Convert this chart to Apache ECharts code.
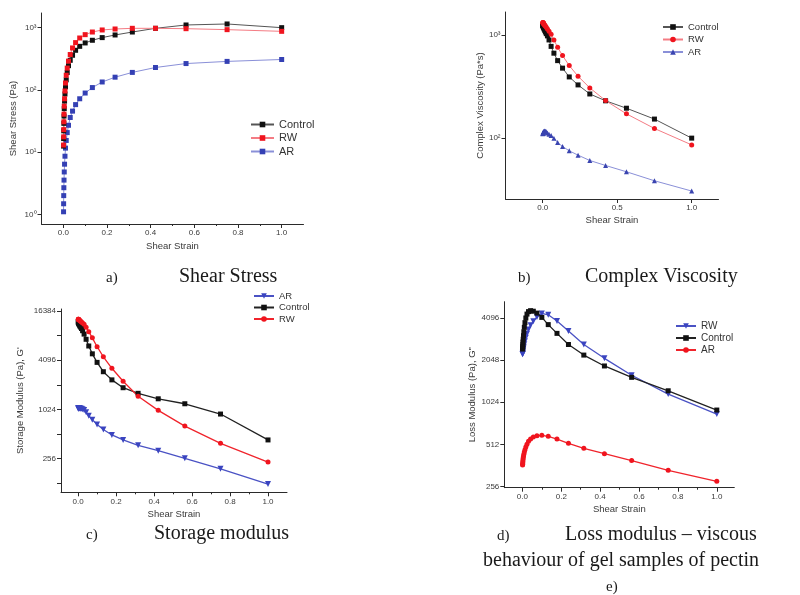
<!DOCTYPE html>
<html>
<head>
<meta charset="utf-8">
<script src="https://cdn.jsdelivr.net/npm/echarts@6/dist/echarts.min.js"></script>
<style>
  html, body { margin: 0; background: #fff; }
  #chart { width: 800px; height: 595px; }
</style>
</head>
<body>
<div id="chart"></div>
<script>
// shared strain steps (amplitude sweep)
const strain = [0.001, 0.00133, 0.00178, 0.00237, 0.00316, 0.00422, 0.00562, 0.0075, 0.01, 0.0133,
  0.0178, 0.0237, 0.0316, 0.0422, 0.0562, 0.075, 0.1, 0.133, 0.178, 0.237, 0.316, 0.422, 0.562, 0.75, 1.0]

// a) shear stress (Pa)
const stressControl = [12.5, 16.5, 22, 29, 38, 50, 66, 86, 112, 145, 190, 245, 299, 360, 433, 501, 568, 627, 692, 763, 851, 976, 1104, 1146, 1000]
const stressRW      = [13, 17.6, 23, 30.7, 40.7, 54.7, 72, 96, 129, 172, 224, 290, 370, 472, 575, 682, 772, 851, 918, 952, 976, 976, 963, 929, 873]
const stressAR      = [1.1, 1.48, 2.0, 2.68, 3.55, 4.8, 6.4, 8.6, 11.6, 15.4, 20.6, 27, 36, 45.6, 58, 72, 89, 109, 134, 160, 191, 229, 265, 287, 308]

// b) complex viscosity (Pa*s)
const viscControl = [1245, 1240, 1235, 1225, 1215, 1200, 1185, 1165, 1140, 1110, 1070, 1030, 980, 895, 775, 666, 564, 477, 392, 328, 268, 230, 195, 153, 100]
const viscRW      = [1320, 1318, 1315, 1310, 1305, 1300, 1290, 1280, 1265, 1245, 1220, 1185, 1140, 1085, 1016, 895, 760, 631, 505, 398, 307, 231, 172, 124, 86]
const viscAR      = [110, 111, 112, 113, 113.5, 114, 115, 116, 116.5, 117, 116.5, 115, 112, 109, 106, 100, 90.6, 83, 75.3, 68.4, 60.7, 54.3, 47.2, 38.6, 30.7]

// c) storage modulus G' (Pa)
const storAR      = [1050, 1050, 1050, 1055, 1055, 1055, 1055, 1055, 1050, 1045, 1040, 1030, 1010, 942, 855, 765, 671, 580, 498, 433, 372, 320, 258, 192, 125]
const storControl = [12000, 11950, 11850, 11750, 11600, 11450, 11250, 11000, 10700, 10400, 10000, 9400, 8540, 7380, 6110, 4900, 3850, 2960, 2352, 1886, 1610, 1380, 1200, 898, 433]
const storRW      = [13000, 13000, 12950, 12900, 12850, 12800, 12700, 12600, 12450, 12300, 12050, 11700, 11270, 10370, 9150, 7690, 5990, 4510, 3260, 2260, 1480, 996, 640, 393, 232]

// d) loss modulus G" (Pa)
const lossRW      = [2250, 2260, 2280, 2310, 2350, 2400, 2470, 2550, 2650, 2780, 2950, 3150, 3380, 3620, 3860, 4150, 4400, 4300, 3880, 3300, 2640, 2105, 1595, 1170, 844]
const lossControl = [2450, 2500, 2560, 2640, 2750, 2880, 3050, 3250, 3500, 3780, 4080, 4350, 4530, 4600, 4560, 4420, 4120, 3660, 3170, 2640, 2220, 1857, 1541, 1236, 901]
const lossAR      = [365, 370, 378, 388, 398, 410, 422, 436, 452, 470, 492, 515, 540, 560, 578, 590, 595, 585, 560, 522, 481, 440, 393, 335, 280]

// ticks
const xTicksFine  = [0, 0.2, 0.4, 0.6, 0.8, 1.0]
const xMinorFine  = [0.1, 0.3, 0.5, 0.7, 0.9]
const xTicksHalf  = [0, 0.5, 1.0]
const yTicksA     = [1, 10, 100, 1000]
const yTicksB     = [100, 1000]
const yTicksC     = [128, 256, 512, 1024, 2048, 4096, 8192, 16384]
const yLabelsC    = [256, 1024, 4096, 16384]
const yTicksD     = [256, 512, 1024, 2048, 4096]

const SANS = '"Liberation Sans", Arial, sans-serif'
const SERIF = '"Liberation Serif", "Times New Roman", serif'
const AX = '#2a2a2a'
const LBL = '#3a3a3a'
const SUP = ['⁰', '¹', '²', '³', '⁴']

const chart = echarts.init(document.getElementById('chart'), null, { renderer: 'canvas' })

function pts(ys) { return strain.map((x, i) => [x, ys[i]]) }

function xMain(grid, min, max, ticks, gap, fmt) {
  return {
    gridIndex: grid, type: 'value', min, max,
    axisLine: { onZero: false, lineStyle: { color: AX, width: 1 } },
    axisTick: { customValues: ticks, length: 4, lineStyle: { color: AX } },
    axisLabel: { customValues: ticks, formatter: fmt, fontSize: 8, color: LBL, fontFamily: SANS, margin: 5 },
    splitLine: { show: false },
    name: 'Shear Strain', nameLocation: 'middle', nameGap: gap,
    nameTextStyle: { fontSize: 9.5, color: LBL, fontFamily: SANS },
  }
}
function xMinor(grid, min, max, ticks) {
  return {
    gridIndex: grid, type: 'value', min, max, position: 'bottom',
    axisLine: { show: false, onZero: false },
    axisTick: { customValues: ticks, length: 2, lineStyle: { color: AX } },
    axisLabel: { show: false }, splitLine: { show: false },
  }
}
function yLog(grid, base, min, max, ticks, labels, fmt, name, gap) {
  return {
    gridIndex: grid, type: 'log', logBase: base, min, max,
    axisLine: { show: true, onZero: false, lineStyle: { color: AX, width: 1 } },
    axisTick: { show: true, customValues: ticks, length: 4, lineStyle: { color: AX } },
    axisLabel: { customValues: labels, formatter: fmt, fontSize: 8, color: LBL, fontFamily: SANS, margin: 5 },
    splitLine: { show: false }, minorTick: { show: false },
    name, nameLocation: 'middle', nameGap: gap,
    nameTextStyle: { fontSize: 9.5, color: LBL, fontFamily: SANS },
  }
}
const pow10 = v => '10' + SUP[Math.round(Math.log10(v))]

function line(name, grid, ys, color, lineColor, symbol, size, width) {
  return {
    type: 'line', name, xAxisIndex: grid, yAxisIndex: grid, data: pts(ys),
    symbol, symbolSize: size, showSymbol: true,
    lineStyle: { color: lineColor, width },
    itemStyle: { color },
    emphasis: { disabled: true },
  }
}

function legend(left, top, names, fontSize, itemWidth, gap) {
  return {
    left, top, orient: 'vertical', itemGap: gap, itemWidth, itemHeight: 7,
    selectedMode: false, data: names,
    formatter: n => n.split(':')[1],
    textStyle: { fontSize, color: '#333', fontFamily: SANS },
  }
}

function caption(x, y, text, size) {
  return { type: 'text', x, y, style: { text, font: size + 'px ' + SERIF, fill: '#1a1a1a', verticalAlign: 'middle' } }
}

const option = {
  animation: false,
  backgroundColor: '#fff',
  grid: [
    { left: 41.5, top: 13, width: 262, height: 211 },
    { left: 505.5, top: 12, width: 213, height: 187 },
    { left: 61, top: 309, width: 226, height: 183.3 },
    { left: 504.3, top: 301.7, width: 230, height: 186 },
  ],
  xAxis: [
    xMain(0, -0.1, 1.1, xTicksFine, 17, v => v.toFixed(1)),
    xMain(1, -0.25, 1.18, xTicksHalf, 16, v => v.toFixed(1)),
    xMain(2, -0.09, 1.1, xTicksFine, 17, v => v.toFixed(1)),
    xMain(3, -0.093, 1.09, xTicksFine, 17, v => v.toFixed(1)),
    xMinor(0, -0.1, 1.1, xMinorFine),
    xMinor(2, -0.09, 1.1, xMinorFine),
    xMinor(3, -0.093, 1.09, xMinorFine),
  ],
  yAxis: [
    yLog(0, 10, 0.7, 1720, yTicksA, yTicksA, pow10, 'Shear Stress (Pa)', 23),
    yLog(1, 10, 25.7, 1670, yTicksB, yTicksB, pow10, 'Complex Viscosity (Pa*s)', 16),
    yLog(2, 2, 99, 17330, yTicksC, yLabelsC, v => String(Math.round(v)), "Storage Modulus (Pa), G'", 36),
    yLog(3, 2, 252, 5330, yTicksD, yTicksD, v => String(Math.round(v)), 'Loss Modulus (Pa), G"', 25),
  ],
  legend: [
    legend(245, 114, ['a:Control', 'a:RW', 'a:AR'], 11, 23, 2.5),
    legend(657, 17, ['b:Control', 'b:RW', 'b:AR'], 9.5, 20, 2.5),
    legend(248, 286, ['c:AR', 'c:Control', 'c:RW'], 9.5, 20, 1.5),
    legend(670, 316, ['d:RW', 'd:Control', 'd:AR'], 10, 20, 2),
  ],
  series: [
    line('a:AR', 0, stressAR, '#3440b4', '#8a90d8', 'rect', 5, 1),
    line('a:Control', 0, stressControl, '#111', '#555', 'rect', 5, 1),
    line('a:RW', 0, stressRW, '#f0141e', '#f47c84', 'rect', 5, 1),

    line('b:AR', 1, viscAR, '#3a44b0', '#8a90d8', 'triangle', 5, 1),
    line('b:Control', 1, viscControl, '#111', '#555', 'rect', 5, 1),
    line('b:RW', 1, viscRW, '#f0141e', '#f47c84', 'circle', 5, 1),

    line('c:AR', 2, storAR, '#3a44c0', '#4a52c4', 'path://M0,0L10,0L5,9Z', 6, 1.3),
    line('c:Control', 2, storControl, '#111', '#222', 'rect', 5, 1.3),
    line('c:RW', 2, storRW, '#f0141e', '#f0242c', 'circle', 5, 1.3),

    line('d:RW', 3, lossRW, '#3a44c0', '#4a52c4', 'path://M0,0L10,0L5,9Z', 6, 1.3),
    line('d:Control', 3, lossControl, '#111', '#222', 'rect', 5, 1.3),
    line('d:AR', 3, lossAR, '#f0141e', '#f0242c', 'circle', 5, 1.3),
  ],
  graphic: [
    caption(106, 278, 'a)', 15),
    caption(179, 277, 'Shear Stress', 20),
    caption(518, 278, 'b)', 15),
    caption(585, 277, 'Complex Viscosity', 20),
    caption(86, 535, 'c)', 15),
    caption(154, 534, 'Storage modulus', 20),
    caption(497, 536, 'd)', 15),
    caption(565, 535, 'Loss modulus – viscous', 20),
    caption(483, 561, 'behaviour of gel samples of pectin', 20),
    caption(606, 587, 'e)', 15),
  ],
}
chart.setOption(option)
</script>
</body>
</html>
